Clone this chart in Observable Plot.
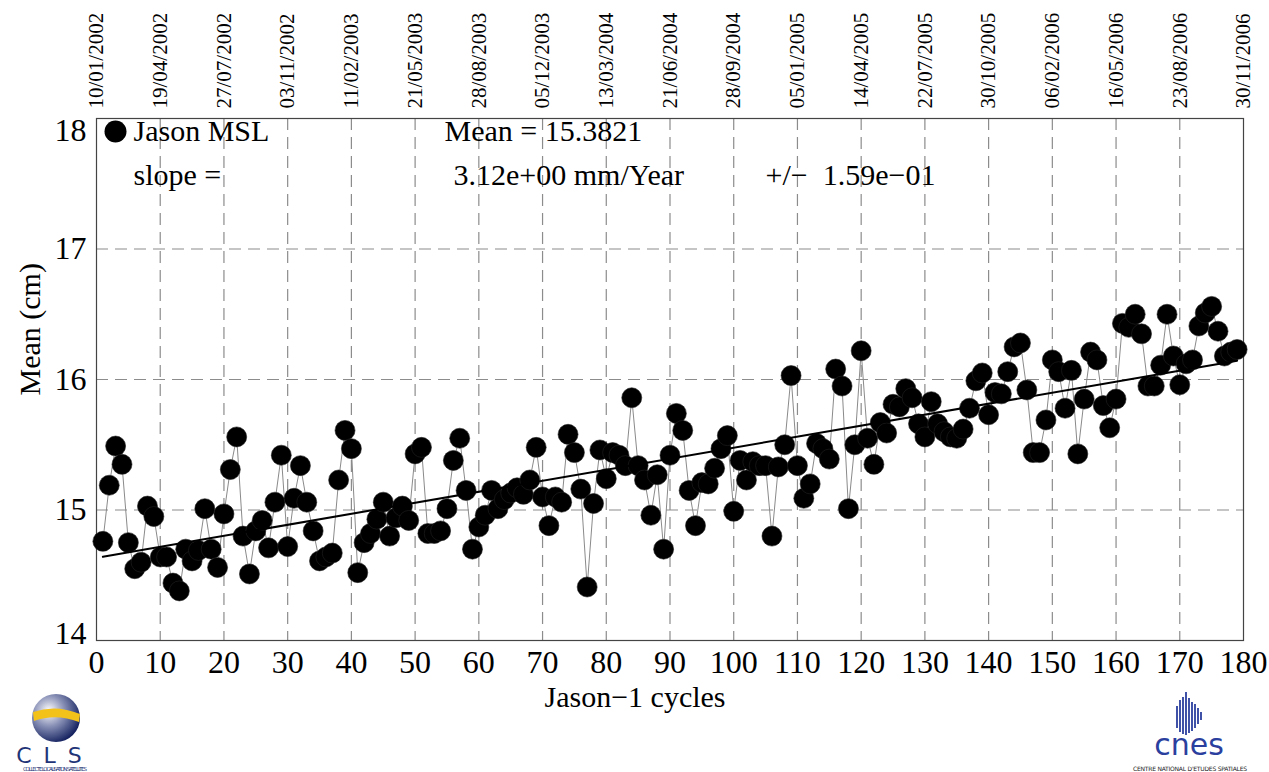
<!DOCTYPE html>
<html><head><meta charset="utf-8">
<script src="https://cdn.jsdelivr.net/npm/d3@7"></script>
<script src="https://cdn.jsdelivr.net/npm/@observablehq/plot@0.6"></script>
<style>
body{margin:0;background:#fff;}
#chart svg{display:block;}
</style></head><body><div id="chart"></div>
<script>
const cycles = [1,2,3,4,5,6,7,8,9,10,11,12,13,14,15,16,17,18,19,20,
21,22,23,24,25,26,27,28,29,30,31,32,33,34,35,36,37,38,39,40,
41,42,43,44,45,46,47,48,49,50,51,52,53,54,55,56,57,58,59,60,
61,62,63,64,65,66,67,68,69,70,71,72,73,74,75,76,77,78,79,80,
81,82,83,84,85,86,87,88,89,90,91,92,93,94,95,96,97,98,99,100,
101,102,103,104,105,106,107,108,109,110,111,112,113,114,115,116,117,118,119,120,
121,122,123,124,125,126,127,128,129,130,131,132,133,134,135,136,137,138,139,140,
141,142,143,144,145,146,147,148,149,150,151,152,153,154,155,156,157,158,159,160,
161,162,163,164,165,166,167,168,169,170,171,172,173,174,175,176,177,178,179];
const msl = [14.76,15.19,15.49,15.35,14.75,14.55,14.60,15.03,14.95,14.64,
14.64,14.44,14.38,14.70,14.61,14.69,15.01,14.70,14.56,14.97,
15.31,15.56,14.80,14.51,14.84,14.92,14.71,15.06,15.42,14.72,
15.09,15.34,15.06,14.84,14.61,14.64,14.67,15.23,15.61,15.47,
14.52,14.75,14.82,14.93,15.06,14.80,14.94,15.03,14.92,15.43,
15.48,14.82,14.82,14.84,15.01,15.38,15.55,15.15,14.70,14.87,
14.96,15.15,15.01,15.08,15.13,15.17,15.12,15.23,15.48,15.10,
14.88,15.10,15.06,15.58,15.44,15.16,14.41,15.05,15.46,15.24,
15.44,15.42,15.34,15.86,15.34,15.23,14.96,15.27,14.70,15.42,
15.74,15.61,15.15,14.88,15.21,15.20,15.32,15.47,15.57,14.99,
15.38,15.23,15.37,15.34,15.34,14.80,15.33,15.50,16.03,15.34,
15.09,15.20,15.51,15.47,15.39,16.08,15.95,15.01,15.50,16.22,
15.55,15.35,15.67,15.59,15.81,15.79,15.93,15.86,15.66,15.56,
15.83,15.66,15.60,15.56,15.55,15.62,15.78,15.99,16.05,15.73,
15.90,15.89,16.06,16.25,16.28,15.92,15.44,15.44,15.69,16.15,
16.06,15.78,16.07,15.43,15.85,16.21,16.15,15.80,15.63,15.85,
16.43,16.40,16.50,16.35,15.95,15.95,16.11,16.50,16.18,15.96,
16.12,16.15,16.41,16.51,16.56,16.37,16.18,16.21,16.23];
const xTicks = [0,10,20,30,40,50,60,70,80,90,100,110,120,130,140,150,160,170,180];
const dateLabels = ["10/01/2002","19/04/2002","27/07/2002","03/11/2002","11/02/2003","21/05/2003",
"28/08/2003","05/12/2003","13/03/2004","21/06/2004","28/09/2004","05/01/2005","14/04/2005",
"22/07/2005","30/10/2005","06/02/2006","16/05/2006","23/08/2006","30/11/2006"];
const gridX = [10,20,30,40,50,60,70,80,90,100,110,120,130,140,150,160,170];
const gridY = [15,16,17];
const legendName = "Jason MSL";
const meanText = "Mean = 15.3821";
const slopeLabel = "slope =";
const slopeText = "3.12e+00 mm/Year";
const errText = "+/\u2212\u00a0\u00a01.59e\u221201";
const xLabel = "Jason\u22121 cycles";
const yLabel = "Mean (cm)";

const data = cycles.map((c, i) => ({cycle: c, msl: msl[i]}));
const font = "'Liberation Serif', 'Times New Roman', serif";
const dash = {stroke: "#8c8c8c", strokeDasharray: "12,7", strokeWidth: 1.2};
const intFmt = d => String(d);

const plot = Plot.plot({
  width: 1269, height: 772,
  marginLeft: 96, marginRight: 26, marginTop: 118, marginBottom: 132,
  style: {fontFamily: font, background: "#fff", color: "#000"},
  x: {domain: [0, 180]},
  y: {domain: [14, 18]},
  marks: [
    Plot.ruleX(gridX, dash),
    Plot.ruleY(gridY, dash),
    Plot.frame({stroke: "#444", strokeWidth: 1.2}),
    Plot.line(data, {x: "cycle", y: "msl", stroke: "#8a8a8a", strokeWidth: 1}),
    Plot.dot(data, {x: "cycle", y: "msl", r: 10, fill: "#000", stroke: "#222", strokeWidth: 0.6}),
    Plot.linearRegressionY(data, {x: "cycle", y: "msl", stroke: "#000", strokeWidth: 2, ci: 0}),
    Plot.axisX(xTicks, {anchor: "bottom", tickSize: 0, tickPadding: 10, fontSize: 32, label: null, tickFormat: intFmt}),
    Plot.axisX(xTicks, {anchor: "top", tickSize: 0, tickPadding: 10, fontSize: 21, tickRotate: -90,
      tickFormat: d => dateLabels[xTicks.indexOf(d)], label: null}),
    Plot.axisY(gridY, {anchor: "left", tickSize: 0, tickPadding: 10, fontSize: 32, label: null, tickFormat: intFmt}),
    Plot.axisY([18], {anchor: "left", tickSize: 0, tickPadding: 10, fontSize: 32, label: null, dy: 12, tickFormat: intFmt}),
    Plot.axisY([14], {anchor: "left", tickSize: 0, tickPadding: 10, fontSize: 32, label: null, dy: -7, tickFormat: intFmt}),
    Plot.dot([legendName], {frameAnchor: "top-left", dx: 19, dy: 13, r: 11, fill: "#000"}),
    Plot.text([legendName], {text: d => d, frameAnchor: "top-left", dx: 37, dy: 13, textAnchor: "start", lineAnchor: "middle", fontSize: 30}),
    Plot.text([meanText], {text: d => d, frameAnchor: "top-left", dx: 348, dy: 13, textAnchor: "start", lineAnchor: "middle", fontSize: 30}),
    Plot.text([slopeLabel], {text: d => d, frameAnchor: "top-left", dx: 37, dy: 57, textAnchor: "start", lineAnchor: "middle", fontSize: 30}),
    Plot.text([slopeText], {text: d => d, frameAnchor: "top-left", dx: 357, dy: 57, textAnchor: "start", lineAnchor: "middle", fontSize: 30}),
    Plot.text([errText], {text: d => d, frameAnchor: "top-left", dx: 669, dy: 57, textAnchor: "start", lineAnchor: "middle", fontSize: 30}),
    Plot.text([xLabel], {text: d => d, frameAnchor: "bottom", dx: -35, dy: 57, lineAnchor: "middle", fontSize: 30}),
    Plot.text([yLabel], {text: d => d, frameAnchor: "left", dx: -66, dy: 16, rotate: -90, lineAnchor: "middle", fontSize: 30})
  ]
});
document.getElementById("chart").appendChild(plot);

// Logos (decorative)
const svg = d3.select(plot);
const defs = svg.append("defs");
const g1 = defs.append("radialGradient").attr("id", "globe").attr("cx", "35%").attr("cy", "35%").attr("r", "70%");
g1.append("stop").attr("offset", "0%").attr("stop-color", "#ffffff");
g1.append("stop").attr("offset", "45%").attr("stop-color", "#8b93b8");
g1.append("stop").attr("offset", "100%").attr("stop-color", "#13205e");
const cls = svg.append("g");
cls.append("circle").attr("cx", 56).attr("cy", 718).attr("r", 24).attr("fill", "url(#globe)");
cls.append("path").attr("d", "M33,712 Q56,704 80,714 L79,722 Q56,713 34,721 Z").attr("fill", "#f2c21b");
cls.append("text").attr("x", 55).attr("y", 763).attr("text-anchor", "middle")
  .attr("font-family", "'DejaVu Sans', sans-serif").attr("font-size", 22).attr("letter-spacing", 12)
  .attr("fill", "#1f3578").text("CLS");
cls.append("text").attr("x", 55).attr("y", 771).attr("text-anchor", "middle")
  .attr("font-family", "'DejaVu Sans', sans-serif").attr("font-size", 5.5).attr("fill", "#1f3578")
  .attr("textLength", 64).text("COLLECTE LOCALISATION SATELLITES");
const cnes = svg.append("g").attr("stroke", "#2b3f9e");
[[1177,706,728],[1180,700,732],[1183,697,734],[1186,692,735],[1189,698,733],[1192,702,731],[1195,704,728],[1198,708,724],[1201,712,720]]
  .forEach(([x, a, b]) => cnes.append("line").attr("x1", x).attr("x2", x).attr("y1", a).attr("y2", b).attr("stroke-width", 1.8));
svg.append("text").attr("x", 1189).attr("y", 755).attr("text-anchor", "middle")
  .attr("font-family", "'DejaVu Sans', sans-serif").attr("font-size", 30).attr("fill", "#2b3f9e").text("cnes");
svg.append("text").attr("x", 1190).attr("y", 771).attr("text-anchor", "middle")
  .attr("font-family", "'DejaVu Sans', sans-serif").attr("font-size", 6).attr("fill", "#222")
  .attr("textLength", 114).text("CENTRE NATIONAL D'ETUDES SPATIALES");
</script></body></html>
